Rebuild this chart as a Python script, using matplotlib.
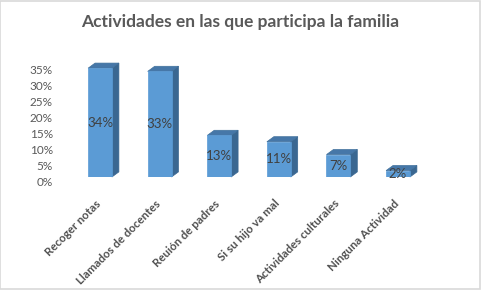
import matplotlib
matplotlib.use("Agg")
import matplotlib.pyplot as plt
from matplotlib.patches import Polygon, Rectangle
import matplotlib.transforms as mtransforms

categories = ["Recoger notas", "Llamados de docentes", "Reuión de padres",
              "Si su hijo va mal", "Actividades culturales", "Ninguna Actividad"]
values = [0.34, 0.33, 0.13, 0.11, 0.07, 0.02]
labels = ["34%", "33%", "13%", "11%", "7%", "2%"]
yticks = [0, 0.05, 0.10, 0.15, 0.20, 0.25, 0.30, 0.35]
yticklabels = ["0%", "5%", "10%", "15%", "20%", "25%", "30%", "35%"]

FONT = ["Lato", "DejaVu Sans"]
front_c = "#5B9BD5"
top_c = "#4677A8"
side_c = "#3A6791"
edge_c = "#41719C"
text_c = "#595959"

fig = plt.figure(figsize=(4.82, 2.90), dpi=100)
fig.patch.set_facecolor("white")
fig.patches.append(Rectangle((0.001, 0.004), 0.994, 0.994, transform=fig.transFigure,
                             fill=False, edgecolor="#D9D9D9", linewidth=1.2))

ax = fig.add_axes([70.2 / 482, (290 - 177) / 290, 357.6 / 482, 112 / 290])
ax.set_xlim(-0.5, 5.5)
ax.set_ylim(0, 0.35)
for s in ax.spines.values():
    s.set_visible(False)

w = 0.40
dx = 0.117
dy = 0.0160
xs = list(range(len(values)))
for x, v in zip(xs, values):
    l, r = x - w / 2, x + w / 2
    ax.add_patch(Polygon([(r, 0), (r + dx, dy), (r + dx, v + dy), (r, v)],
                         closed=True, facecolor=side_c, edgecolor=side_c, lw=0.5, clip_on=False))
    ax.add_patch(Polygon([(l, v), (r, v), (r + dx, v + dy), (l + dx, v + dy)],
                         closed=True, facecolor=top_c, edgecolor=edge_c, lw=0.5, clip_on=False))
bars = ax.bar(xs, values, width=w, color=front_c, edgecolor=front_c, lw=0.5, zorder=3)

for x, v, t in zip(xs, values, labels):
    ax.text(x, v / 2, t, ha="center", va="center", fontsize=9.5, color="#404040",
            family=FONT, zorder=5)

ax.set_yticks(yticks)
ax.set_yticklabels(yticklabels, fontsize=8.5, color=text_c, family=FONT)
ax.tick_params(axis="y", length=0, pad=12.5)
off = mtransforms.ScaledTranslation(0, -4.5 / 100, fig.dpi_scale_trans)
for lab in ax.get_yticklabels():
    lab.set_transform(lab.get_transform() + off)

ax.set_xticks(xs)
ax.set_xticklabels(categories, rotation=45, ha="right", va="top", rotation_mode="anchor",
                   fontsize=8.3, color="#505050", family=FONT, fontweight="bold")
ax.tick_params(axis="x", length=0, pad=15)
offx = mtransforms.ScaledTranslation(-5 / 100, 0, fig.dpi_scale_trans)
for lab in ax.get_xticklabels():
    lab.set_transform(lab.get_transform() + offx)

fig.text(0.498, 0.925, "Actividades en las que participa la familia", ha="center", va="center",
         fontsize=12.5, color=text_c, family=FONT, fontweight="bold")

fig.savefig("out.png", dpi=100, facecolor="white")
